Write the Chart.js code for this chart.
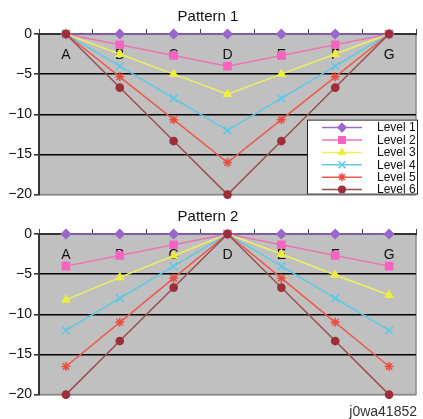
<!DOCTYPE html>
<html>
<head>
<meta charset="utf-8">
<script src="https://cdn.jsdelivr.net/npm/chart.js@4.4.0/dist/chart.umd.min.js"></script>
<style>
  body { margin: 0; background: #fff; }
  #wrap { position: relative; width: 423px; height: 419px; overflow: hidden; }
  .box { position: absolute; left: 0; width: 423px; height: 205px; }
  #topBox { top: 0; }
  #bottomBox { top: 200px; }
  #code { position: absolute; right: 6px; top: 403px; line-height: 16px;
          font: 14px "Liberation Sans", Arial, sans-serif; color: #333; }
</style>
</head>
<body>
<div id="wrap">
  <div class="box" id="topBox"><canvas id="pattern1"></canvas></div>
  <div class="box" id="bottomBox"><canvas id="pattern2"></canvas></div>
  <div id="code">j0wa41852</div>
</div>
<script>
// **************************
//    DATA
// **************************
const categories = ["A", "B", "C", "D", "E", "F", "G"];
const levelNames = ["Level 1", "Level 2", "Level 3", "Level 4", "Level 5", "Level 6"];
const yTicks = [0, -5, -10, -15, -20];

// Pattern 1 (deepest at D)
const p1Level1 = [0, 0, 0, 0, 0, 0, 0];
const p1Level2 = [0, -1.33, -2.67, -4, -2.67, -1.33, 0];
const p1Level3 = [0, -2.5, -5, -7.5, -5, -2.5, 0];
const p1Level4 = [0, -4, -8, -12, -8, -4, 0];
const p1Level5 = [0, -5.33, -10.67, -16, -10.67, -5.33, 0];
const p1Level6 = [0, -6.67, -13.33, -20, -13.33, -6.67, 0];

// Pattern 2 (peak at D)
const p2Level1 = [0, 0, 0, 0, 0, 0, 0];
const p2Level2 = [-4, -2.67, -1.33, 0, -1.33, -2.67, -4];
const p2Level3 = [-8.2, -5.4, -2.7, 0, -2.5, -5.1, -7.6];
const p2Level4 = [-12, -8, -4, 0, -4, -8, -12];
const p2Level5 = [-16.5, -11, -5.5, 0, -5.5, -11, -16.5];
const p2Level6 = [-20, -13.33, -6.67, 0, -6.67, -13.33, -20];

// **************************
//    STYLES
// **************************
const FONT = '"Liberation Sans", Arial, sans-serif';
const levelStyles = [
    { line: "#9a6ccc", point: "#9966cc", style: "rectRot", radius: 4.5 },
    { line: "#ec74b2", point: "#f862c0", style: "rect", radius: 5 },
    { line: "#eeee60", point: "#eeee40", style: "triangle", radius: 4.2 },
    { line: "#62c8e6", point: "#5cc8ea", style: "crossRot", radius: 5.5 },
    { line: "#ee5a4a", point: "#f04a3c", style: "star", radius: 4.5 },
    { line: "#9c4e50", point: "#9e2e38", style: "circle", radius: 3.6 }
];

function buildDatasets(series) {
    return series.map((values, i) => {
        const s = levelStyles[i];
        return {
            label: levelNames[i],
            data: values,
            borderColor: s.line,
            borderWidth: 1.5,
            pointStyle: s.style,
            pointRadius: s.radius,
            pointHoverRadius: s.radius,
            pointBackgroundColor: s.point,
            pointBorderColor: s.point,
            pointBorderWidth: 1.5,
            tension: 0,
            clip: false,
            order: series.length - i
        };
    });
}

// **************************
//    PLUGINS
// **************************
const plotBackground = {
    id: "plotBackground",
    beforeDraw(chart) {
        const { ctx, chartArea: a } = chart;
        ctx.save();
        ctx.fillStyle = "#c0c0c0";
        ctx.fillRect(a.left, a.top, a.right - a.left, a.bottom - a.top);
        ctx.strokeStyle = "#8c8c8c";
        ctx.lineWidth = 1.5;
        ctx.beginPath();
        ctx.moveTo(a.right, a.top);
        ctx.lineTo(a.right, a.bottom);
        ctx.lineTo(a.left, a.bottom);
        ctx.stroke();
        ctx.restore();
    }
};

// category letters sit just under the top axis, inside the plot
const innerLabels = {
    id: "innerLabels",
    beforeDatasetsDraw(chart) {
        const { ctx, chartArea: a, scales } = chart;
        ctx.save();
        ctx.fillStyle = "#111";
        ctx.font = "14px " + FONT;
        ctx.textAlign = "center";
        ctx.textBaseline = "middle";
        chart.data.labels.forEach((lab, i) => {
            ctx.fillText(lab, scales.x.getPixelForValue(i), a.top + 21);
        });
        ctx.restore();
    }
};

// boxed legend in the lower right corner of the plot
const boxLegend = {
    id: "boxLegend",
    afterDraw(chart, args, opts) {
        if (!opts.show) return;
        const { ctx, chartArea: a } = chart;
        const w = 111, h = 75;
        const x = a.right + 2 - w, y = a.bottom - h;
        ctx.save();
        ctx.fillStyle = "#fff";
        ctx.fillRect(x, y, w, h);
        ctx.strokeStyle = "#222";
        ctx.lineWidth = 1;
        ctx.strokeRect(x + 0.5, y + 0.5, w - 1, h - 1);
        chart.data.datasets.forEach((ds, i) => {
            const cy = y + 8 + i * 12.4;
            ctx.strokeStyle = ds.borderColor;
            ctx.lineWidth = 1.5;
            ctx.beginPath();
            ctx.moveTo(x + 15, cy);
            ctx.lineTo(x + 55, cy);
            ctx.stroke();
            ctx.fillStyle = ds.pointBackgroundColor;
            ctx.strokeStyle = ds.pointBorderColor;
            ctx.lineWidth = ds.pointBorderWidth;
            Chart.helpers.drawPoint(ctx, {
                pointStyle: ds.pointStyle,
                radius: ds.pointRadius * 0.9,
                borderWidth: ds.pointBorderWidth,
                rotation: 0
            }, x + 35, cy);
            ctx.fillStyle = "#111";
            ctx.font = "12px " + FONT;
            ctx.textAlign = "left";
            ctx.textBaseline = "middle";
            ctx.fillText(ds.label, x + 70, cy + 0.5);
        });
        ctx.restore();
    }
};

// **************************
//    CHART INITIALIZER
// **************************
function makeChart(id, title, series, showLegend) {
    return new Chart(document.getElementById(id), {
        type: "line",
        data: { labels: categories, datasets: buildDatasets(series) },
        plugins: [plotBackground, innerLabels, boxLegend],
        options: {
            responsive: true,
            maintainAspectRatio: false,
            animation: false,
            layout: { padding: { left: 0, right: 7, top: 0, bottom: 3 } },
            plugins: {
                legend: { display: false },
                tooltip: { enabled: false },
                boxLegend: { show: showLegend },
                title: {
                    display: true,
                    text: title,
                    color: "#111",
                    font: { family: FONT, size: 15, weight: "normal" },
                    padding: { top: 8, bottom: 3 }
                }
            },
            scales: {
                x: {
                    type: "category",
                    position: "top",
                    offset: true,
                    ticks: { display: false },
                    grid: {
                        offset: true,
                        drawOnChartArea: false,
                        tickLength: 5,
                        color: "#444",
                        lineWidth: 1
                    },
                    border: { color: "#333", width: 2 }
                },
                y: {
                    min: yTicks[yTicks.length - 1],
                    max: yTicks[0],
                    afterBuildTicks: (scale) => {
                        scale.ticks = yTicks.map(v => ({ value: v }));
                    },
                    afterFit: (scale) => { scale.width = 39; },
                    ticks: {
                        color: "#111",
                        padding: 2,
                        font: { family: FONT, size: 14 },
                        callback: (v) => (v < 0 ? "\u2212" + Math.abs(v) : String(v))
                    },
                    grid: {
                        color: (c) => {
                            const v = c.tick ? c.tick.value : null;
                            if (v === -20) return "#8c8c8c";
                            return "#000";
                        },
                        lineWidth: 1.6,
                        tickLength: 5,
                        tickColor: "#333"
                    },
                    border: { color: "#333", width: 2 }
                }
            }
        }
    });
}

makeChart("pattern1", "Pattern 1",
    [p1Level1, p1Level2, p1Level3, p1Level4, p1Level5, p1Level6], true);
makeChart("pattern2", "Pattern 2",
    [p2Level1, p2Level2, p2Level3, p2Level4, p2Level5, p2Level6], false);
</script>
</body>
</html>
